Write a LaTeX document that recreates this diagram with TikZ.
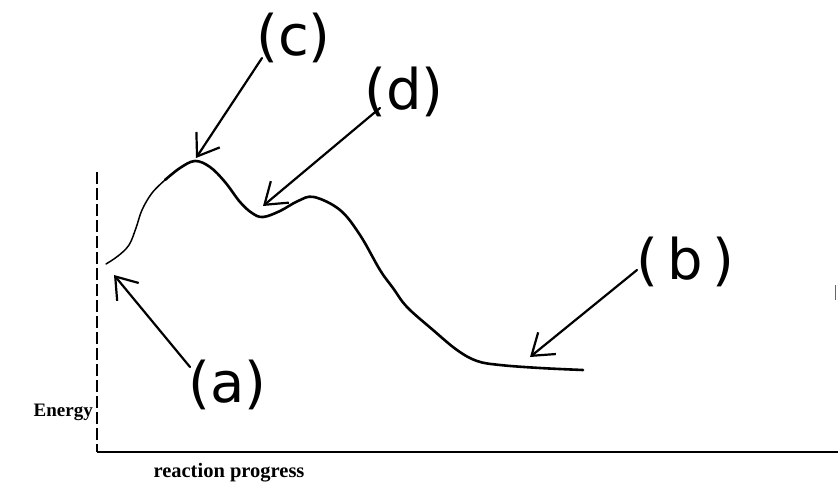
\documentclass[tikz,border=0pt]{standalone}
\usepackage{fontspec}
\setmainfont{Liberation Serif}
\newfontfamily\handfont{DejaVu Sans}
\usetikzlibrary{arrows.meta}
\tikzset{
  axisline/.style={line width=1.1pt, black},
  curveline/.style={line width=2.6pt, black, line cap=round, line join=round},
  faintcurve/.style={line width=1.5pt, black, line cap=round},
  handarrow/.style={line width=2.2pt, black, line cap=round,
     -{Straight Barb[length=20pt,width=28pt,line width=2.2pt]}},
  handlabel/.style={inner sep=0pt, anchor=west, font=\handfont\fontsize{56}{56}\selectfont},
  axislabel/.style={inner sep=0pt, font=\bfseries\fontsize{19}{19}\selectfont}
}
\begin{document}
\begin{tikzpicture}[x=1pt,y=-1pt]
\useasboundingbox (0,0) rectangle (838,485);
% axes
\coordinate (top) at (97,172);
\coordinate (origin) at (97,452);
\coordinate (xend) at (838,452);
\draw[axisline, dash pattern=on 12pt off 4pt] (top) -- (origin);
\draw[axisline] (origin) -- (xend);
\draw[line width=0.8pt, black!60] (835,285) -- (835,300);
\node[axislabel, anchor=east] (energy) at (93,412) {Energy};
\node[axislabel, font=\bfseries\fontsize{20.5}{20.5}\selectfont] (progress) at (229,473) {reaction progress};
% energy curve
\draw[faintcurve] plot[smooth, tension=0.6] coordinates {(106,264) (118,256) (129,245) (136,228) (142,210) (152,193) (165,180)};
\draw[curveline] plot[smooth, tension=0.6] coordinates {(165,180) (180,168) (195,161) (210,167) (225,182) (240,202) (252,213) (263,217) (280,211) (298,201) (314,197) (340,210) (360,235) (380,270) (393,288) (407,307) (433,330) (457,350) (477,361) (500,365) (540,368) (583,370)};
% points of interest
\coordinate (pa) at (114,275);
\coordinate (pc) at (196,158);
\coordinate (pd) at (263,206);
\coordinate (pb) at (530,357);
% labels
\node[handlabel] (lc) at (256,38) {(c)};
\node[handlabel] (ld) at (364,92) {(d)};
\node[handlabel] (lb) at (636,262) {(\,b\,)};
\node[handlabel] (la) at (188,385) {(a)};
% arrow start points
\coordinate (cs) at (262,58);
\coordinate (ds) at (380,108);
\coordinate (bs) at (637,270);
\coordinate (as) at (190,367);
% arrows
\draw[handarrow] (cs) -- (pc);
\draw[handarrow] (ds) -- (pd);
\draw[handarrow] (bs) -- (pb);
\draw[handarrow] (as) -- (pa);
\end{tikzpicture}
\end{document}
